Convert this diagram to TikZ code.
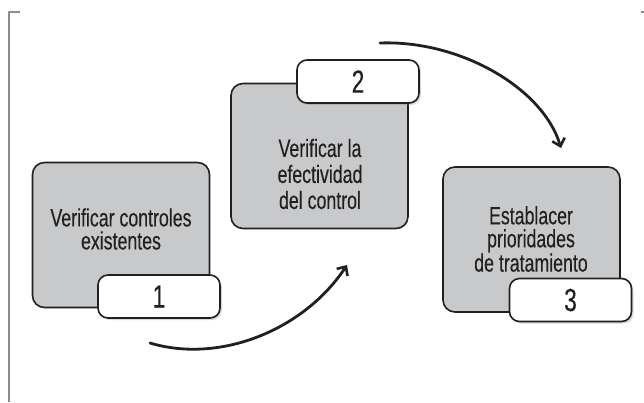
\documentclass[tikz,border=0pt]{standalone}
\usepackage{fontspec}
\setmainfont{Liberation Sans}[FakeStretch=0.71,FakeBold=0.25]
\usetikzlibrary{arrows.meta,shadows}
\definecolor{grisCaja}{RGB}{200,201,203}
\definecolor{tinta}{RGB}{35,31,32}
\definecolor{grisMarco}{RGB}{140,140,140}

\begin{document}
\begin{tikzpicture}[line cap=round,line join=round,x=1pt,y=-1pt,
	paso/.style={draw=tinta,line width=1.6pt,fill=grisCaja,rounded corners=12pt,minimum width=177pt,minimum height=145pt,inner sep=0pt},
	numero/.style={draw=tinta,line width=1.6pt,fill=white,rounded corners=10pt,minimum width=122pt,minimum height=43pt,inner sep=0pt,
		drop shadow={opacity=0.3,shadow xshift=2pt,shadow yshift=-2pt},text=tinta,font=\fontsize{32}{32}\selectfont},
	texto/.style={align=center,text=tinta,font=\fontsize{25}{23}\selectfont},
	flecha/.style={draw=tinta,line width=2.8pt,-{Straight Barb[length=7pt,width=13pt,line width=2.6pt]}}]
	\useasboundingbox (0,0) rectangle (644,402);
	% marco
	\draw [grisMarco,line width=1.3pt,line cap=butt] (20,12)-- (9,12)-- (9,402);
	\draw [grisMarco,line width=1.3pt,line cap=butt] (641,12)-- (644,12);
	% cajas
	\node [paso] (p1) at (121,235) {};
	\node [paso] (p2) at (319.5,156) {};
	\node [paso] (p3) at (531.5,239.5) {};
	\node [texto] (t1) at (121,229) {Verificar controles\\existentes};
	\node [texto] (t2) at (320,174) {Verificar la\\[3pt]efectividad\\[3pt]del control};
	\node [texto] (t3) at (531,239) {Establacer\\prioridades\\de tratamiento};
	\node [numero] (n1) at (159,296.5) {1};
	\node [numero] (n2) at (358,81.5) {2};
	\node [numero] (n3) at (570.5,300) {3};
	% flechas
	\coordinate (f1a) at (150,343);
	\coordinate (f1b) at (347,265);
	\coordinate (f2a) at (380,43);
	\coordinate (f2b) at (561,148);
	\draw [flecha] (f1a) .. controls (220,364) and (304,330) .. (f1b);
	\draw [flecha] (f2a) .. controls (460,40) and (543,88) .. (f2b);
\end{tikzpicture}
\end{document}
